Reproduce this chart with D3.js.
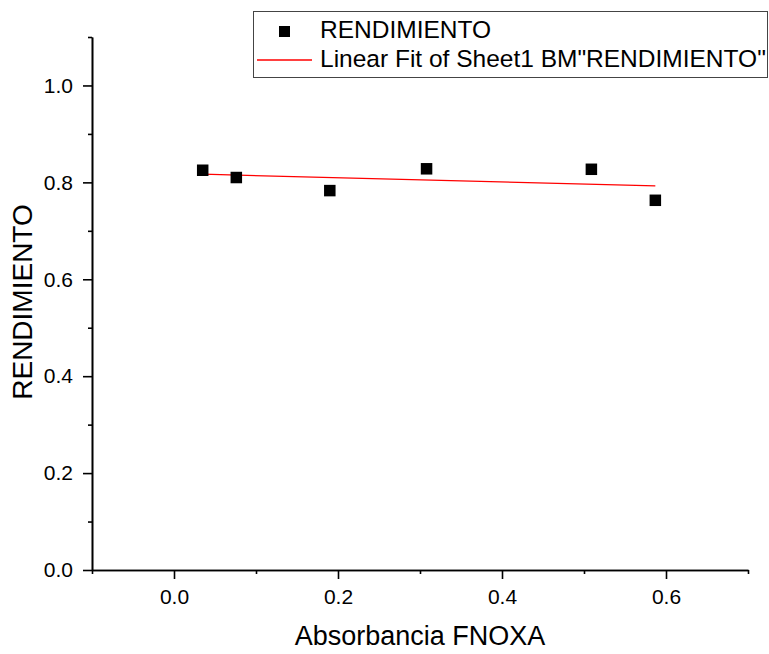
<!DOCTYPE html>
<html>
<head>
<meta charset="utf-8">
<script src="https://cdn.jsdelivr.net/npm/d3@7"></script>
<style>
	body { margin: 0; background: #fff; }
	svg text { font-family: "Liberation Sans", Arial, sans-serif; fill: #000; }
</style>
</head>
<body>
<div id="chart"></div>
<script>

// data
var absorbancia = [0.035, 0.076, 0.190, 0.308, 0.509, 0.587];
var rendimiento = [0.825, 0.810, 0.783, 0.828, 0.827, 0.763];
var xTicks = [0.0, 0.2, 0.4, 0.6];
var yTicks = [0.0, 0.2, 0.4, 0.6, 0.8, 1.0];
var legendLabels = ["RENDIMIENTO", "Linear Fit of Sheet1 BM\"RENDIMIENTO\""];

var width = 769,
	height = 654;

var svg = d3.select("#chart").append("svg")
	.attr("width", width)
	.attr("height", height);

var x = d3.scaleLinear().domain([-0.1, 0.7]).range([92, 748]);
var y = d3.scaleLinear().domain([0, 1.1]).range([570, 37]);

// least squares fit
var mx = d3.mean(absorbancia), my = d3.mean(rendimiento);
var sxy = d3.sum(absorbancia, function (d, i) { return (d - mx) * (rendimiento[i] - my); });
var sxx = d3.sum(absorbancia, function (d) { return (d - mx) * (d - mx); });
var slope = sxy / sxx, intercept = my - slope * mx;
var xmin = d3.min(absorbancia), xmax = d3.max(absorbancia);

// axes
var xAxis = svg.append("g")
	.attr("transform", "translate(0," + y(0) + ")")
	.call(d3.axisBottom(x).tickValues(xTicks).tickFormat(d3.format(".1f")).tickSize(9).tickSizeOuter(0));
svg.append("g")
	.attr("transform", "translate(0," + y(0) + ")")
	.call(d3.axisBottom(x).tickValues([-0.1, 0.1, 0.3, 0.5, 0.7]).tickFormat("").tickSize(4).tickSizeOuter(0));

var yAxis = svg.append("g")
	.attr("transform", "translate(" + x(-0.1) + ",0)")
	.call(d3.axisLeft(y).tickValues(yTicks).tickFormat(d3.format(".1f")).tickSize(9).tickSizeOuter(0));
svg.append("g")
	.attr("transform", "translate(" + x(-0.1) + ",0)")
	.call(d3.axisLeft(y).tickValues([0.1, 0.3, 0.5, 0.7, 0.9, 1.1]).tickFormat("").tickSize(4).tickSizeOuter(0));

svg.selectAll(".domain").attr("stroke", "#000").attr("stroke-width", 1.6);
svg.selectAll(".tick line").attr("stroke", "#000").attr("stroke-width", 1.6);
svg.selectAll(".tick text")
	.attr("font-family", null)
	.attr("fill", "#000")
	.style("font-size", "21px");
xAxis.selectAll(".tick text").attr("y", 19);
yAxis.selectAll(".tick text").attr("x", -19);

// axis titles
svg.append("text")
	.attr("x", 420)
	.attr("y", 645)
	.attr("text-anchor", "middle")
	.style("font-size", "27px")
	.text("Absorbancia FNOXA");

svg.append("text")
	.attr("transform", "translate(32,302) rotate(-90)")
	.attr("text-anchor", "middle")
	.style("font-size", "28px")
	.text("RENDIMIENTO");

// fit line
svg.append("line")
	.attr("x1", x(xmin))
	.attr("y1", y(intercept + slope * xmin))
	.attr("x2", x(xmax))
	.attr("y2", y(intercept + slope * xmax))
	.attr("stroke", "#ff0000")
	.attr("stroke-width", 1.3);

// points
var ms = 11.5;
svg.selectAll("rect.pt")
	.data(absorbancia)
	.enter().append("rect")
	.attr("class", "pt")
	.attr("x", function (d) { return x(d) - ms / 2; })
	.attr("y", function (d, i) { return y(rendimiento[i]) - ms / 2; })
	.attr("width", ms)
	.attr("height", ms)
	.attr("fill", "#000");

// legend
var legend = svg.append("g");
legend.append("rect")
	.attr("x", 253.5)
	.attr("y", 11.5)
	.attr("width", 514)
	.attr("height", 66)
	.attr("fill", "#fff")
	.attr("stroke", "#444")
	.attr("stroke-width", 1);
legend.append("rect")
	.attr("x", 279)
	.attr("y", 26)
	.attr("width", 11)
	.attr("height", 11)
	.attr("fill", "#000");
legend.append("line")
	.attr("x1", 257).attr("x2", 312)
	.attr("y1", 60).attr("y2", 60)
	.attr("stroke", "#ff0000")
	.attr("stroke-width", 1.3);
legend.selectAll("text.leg")
	.data(legendLabels)
	.enter().append("text")
	.attr("class", "leg")
	.attr("x", 320)
	.attr("y", function (d, i) { return 37.5 + i * 29; })
	.style("font-size", "24.5px")
	.text(function (d) { return d; });

</script>
</body>
</html>
